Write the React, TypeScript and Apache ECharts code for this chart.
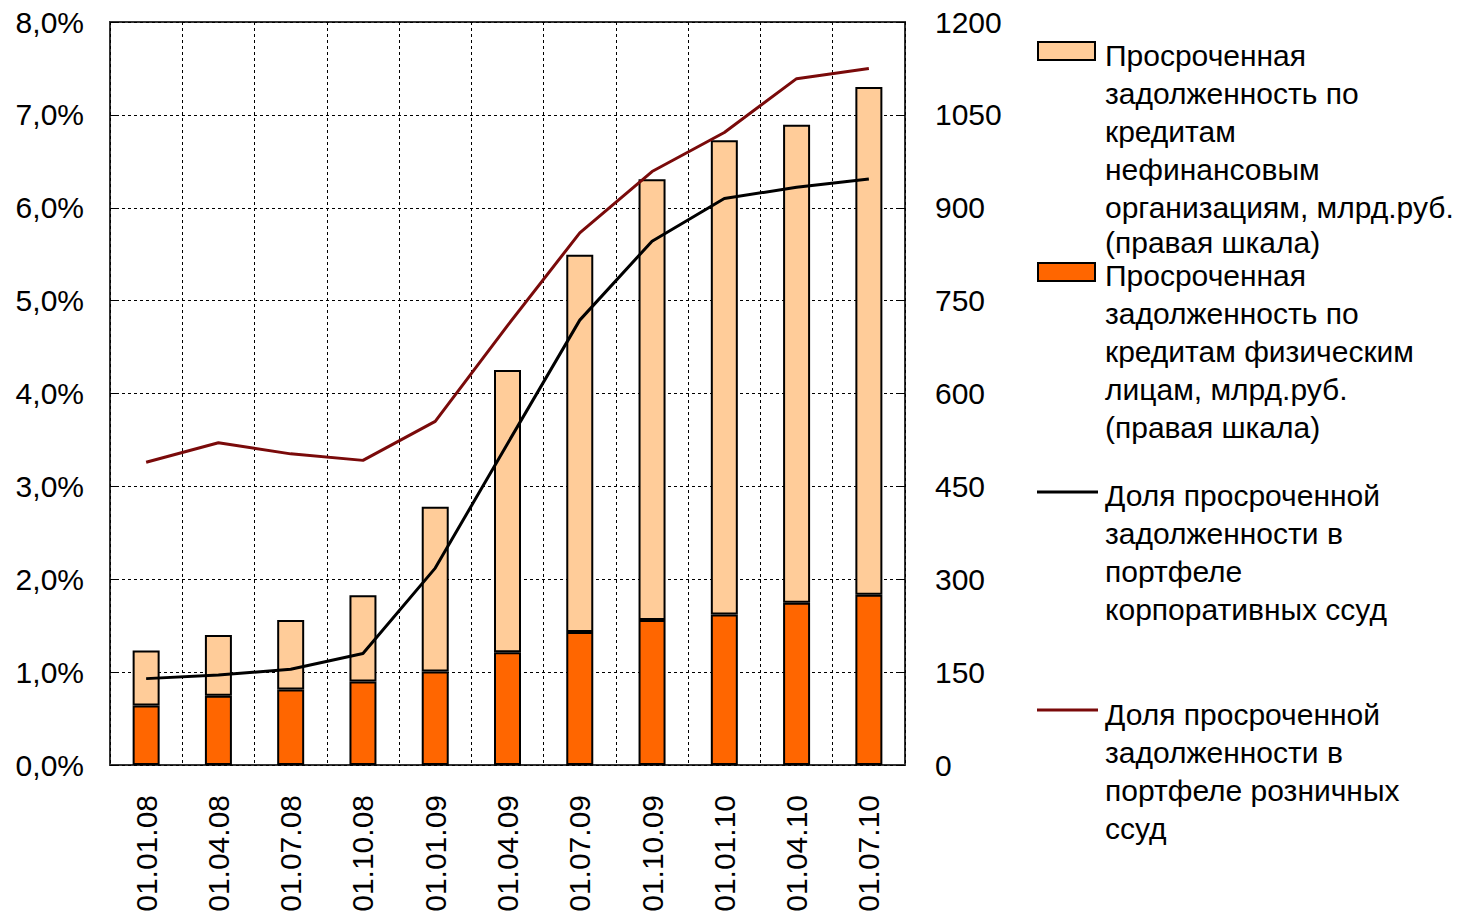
import React, { useEffect, useRef } from "react";
import * as echarts from "echarts";

const categories = ["01.01.08", "01.04.08", "01.07.08", "01.10.08", "01.01.09", "01.04.09", "01.07.09", "01.10.09", "01.01.10", "01.04.10", "01.07.10"];
const overdueIndividuals = [96, 112, 122, 135, 151, 182, 215, 234, 243, 262, 275];
const overdueCorporates = [89, 98, 112, 139, 266, 456, 609, 712, 766, 772, 820];
const shareCorporate = [0.93, 0.97, 1.03, 1.2, 2.12, 3.46, 4.79, 5.64, 6.1, 6.22, 6.31];
const shareRetail = [3.26, 3.47, 3.35, 3.28, 3.7, 4.73, 5.73, 6.39, 6.81, 7.39, 7.5];

const nameCorpMain = "Просроченная\nзадолженность по\nкредитам\nнефинансовым\nорганизациям, млрд.руб.";
const nameCorpNote = "(правая шкала)";
const nameCorp = nameCorpMain + "\n" + nameCorpNote;
const nameInd = "Просроченная\nзадолженность по\nкредитам физическим\nлицам, млрд.руб.\n(правая шкала)";
const nameShareCorp = "Доля просроченной\nзадолженности в\nпортфеле\nкорпоративных ссуд";
const nameShareRetail = "Доля просроченной\nзадолженности в\nпортфеле розничных\nссуд";

const FONT = "'Liberation Sans', Arial, sans-serif";
const PEACH = "#FFCC99";
const ORANGE = "#FF6600";
const DARKRED = "#7A0A0A";

export default function App() {
  const ref = useRef<HTMLDivElement>(null);
  useEffect(() => {
    if (!ref.current) return;
    const chart = echarts.init(ref.current, null, { renderer: "svg" });
    const gridLine = { show: true, lineStyle: { color: "#000", width: 1, type: [3, 3] as any } };
    const textStyle = { fontFamily: FONT, fontSize: 30, lineHeight: 38, fill: "#000" };
    chart.setOption({
      animation: false,
      backgroundColor: "#fff",
      textStyle: { fontFamily: FONT },
      grid: { left: 110, right: 559, top: 22, bottom: 150, show: true, borderColor: "#333", borderWidth: 2, backgroundColor: "transparent" },
      xAxis: {
        type: "category",
        data: categories,
        boundaryGap: true,
        axisLine: { show: false },
        axisTick: { show: false },
        splitLine: gridLine,
        axisLabel: { rotate: 90, margin: 30, fontSize: 30, color: "#000", fontFamily: FONT, interval: 0 },
      },
      yAxis: [
        {
          type: "value",
          min: 0,
          max: 8,
          interval: 1,
          axisLine: { show: false },
          axisTick: { show: true, inside: true, length: 6, lineStyle: { color: "#000" } },
          splitLine: gridLine,
          axisLabel: { margin: 26, fontSize: 30, color: "#000", fontFamily: FONT, formatter: (v: number) => v.toFixed(1).replace(".", ",") + "%" },
        },
        {
          type: "value",
          min: 0,
          max: 1200,
          interval: 150,
          axisLine: { show: false },
          axisTick: { show: true, inside: true, length: 6, lineStyle: { color: "#000" } },
          splitLine: { show: false },
          axisLabel: { margin: 30, fontSize: 30, color: "#000", fontFamily: FONT, formatter: (v: number) => String(v) },
        },
      ],
      series: [
        {
          name: nameInd,
          type: "bar",
          stack: "debt",
          yAxisIndex: 1,
          barWidth: 27,
          data: overdueIndividuals,
          itemStyle: { color: ORANGE, borderColor: "#000", borderWidth: 2 },
        },
        {
          name: nameCorp,
          type: "bar",
          stack: "debt",
          yAxisIndex: 1,
          barWidth: 27,
          data: overdueCorporates,
          itemStyle: { color: PEACH, borderColor: "#000", borderWidth: 2 },
        },
        {
          name: nameShareCorp,
          type: "line",
          yAxisIndex: 0,
          data: shareCorporate,
          symbol: "none",
          lineStyle: { color: "#000", width: 3 },
          itemStyle: { color: "#000" },
        },
        {
          name: nameShareRetail,
          type: "line",
          yAxisIndex: 0,
          data: shareRetail,
          symbol: "none",
          lineStyle: { color: DARKRED, width: 3 },
          itemStyle: { color: DARKRED },
        },
      ],
      graphic: [
        { type: "rect", shape: { x: 1038, y: 42, width: 57, height: 18 }, style: { fill: PEACH, stroke: "#000", lineWidth: 2 } },
        { type: "text", x: 1105, y: 36, style: { ...textStyle, text: nameCorpMain } },
        { type: "text", x: 1105, y: 228, style: { ...textStyle, lineHeight: 28, text: nameCorpNote } },
        { type: "rect", shape: { x: 1038, y: 263, width: 57, height: 18 }, style: { fill: ORANGE, stroke: "#000", lineWidth: 2 } },
        { type: "text", x: 1105, y: 256, style: { ...textStyle, text: nameInd } },
        { type: "line", shape: { x1: 1037, y1: 492, x2: 1098, y2: 492 }, style: { stroke: "#000", lineWidth: 3 } },
        { type: "text", x: 1105, y: 476, style: { ...textStyle, text: nameShareCorp } },
        { type: "line", shape: { x1: 1037, y1: 710, x2: 1098, y2: 710 }, style: { stroke: DARKRED, lineWidth: 3 } },
        { type: "text", x: 1105, y: 695, style: { ...textStyle, text: nameShareRetail } },
      ],
    });
    return () => chart.dispose();
  }, []);
  return <div ref={ref} style={{ position: "fixed", left: 0, top: 0, width: 1464, height: 915 }} />;
}
